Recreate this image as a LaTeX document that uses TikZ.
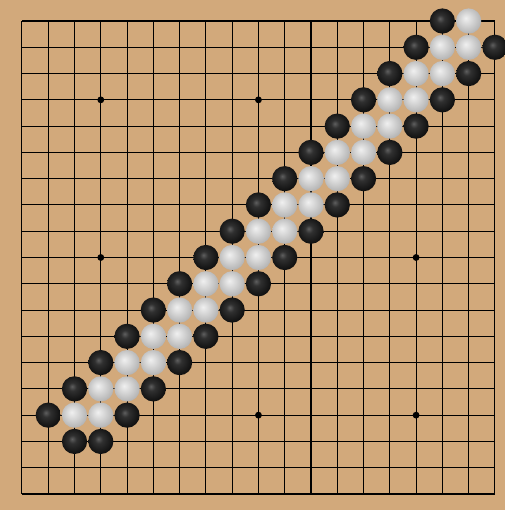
\documentclass[tikz,border=0pt]{standalone}
\definecolor{boardtan}{RGB}{210,169,123}
\definecolor{bsHi}{RGB}{95,95,95}
\definecolor{bsMid}{RGB}{48,48,48}
\definecolor{bsEdge}{RGB}{15,15,15}
\definecolor{wsHi}{RGB}{240,240,240}
\definecolor{wsMid}{RGB}{214,214,214}
\definecolor{wsEdge}{RGB}{172,172,172}
\pgfdeclareradialshading{blackshade}{\pgfqpoint{-5bp}{5bp}}{color(0bp)=(bsHi); color(8bp)=(bsMid); color(27bp)=(bsEdge); color(50bp)=(bsEdge)}
\pgfdeclareradialshading{whiteshade}{\pgfqpoint{-6bp}{6bp}}{color(0bp)=(wsHi); color(12bp)=(wsMid); color(31bp)=(wsEdge); color(50bp)=(wsEdge)}
\tikzset{
  blackstone/.style={shading=blackshade},
  whitestone/.style={shading=whiteshade},
}
\begin{document}
\begin{tikzpicture}[x=0.7cm,y=0.7cm]
\useasboundingbox (-0.836,0.80) rectangle (18.38,-18.61);
\clip (-0.836,0.80) rectangle (18.38,-18.61);
\fill[boardtan] (-0.836,0.80) rectangle (18.38,-18.61);

% grid
\foreach \i in {0,...,18} {
  \draw[line width=0.8pt] (\i,0) -- (\i,-18);
  \draw[line width=0.8pt] (0,-\i) -- (18,-\i);
}

% star points
\foreach \i in {3,9,15}
  \foreach \j in {3,9,15}
    \fill (\i,-\j) circle (0.13);

% stones
\shade[blackstone] (16,0) circle (0.48);
\shade[whitestone] (17,0) circle (0.48);
\foreach \r in {1,...,15} {
  \pgfmathtruncatemacro{\a}{16-\r}
  \pgfmathtruncatemacro{\b}{17-\r}
  \pgfmathtruncatemacro{\c}{18-\r}
  \pgfmathtruncatemacro{\d}{19-\r}
  \shade[blackstone] (\a,-\r) circle (0.48);
  \shade[whitestone] (\b,-\r) circle (0.48);
  \shade[whitestone] (\c,-\r) circle (0.48);
  \shade[blackstone] (\d,-\r) circle (0.48);
}
\shade[blackstone] (2,-16) circle (0.48);
\shade[blackstone] (3,-16) circle (0.48);
\end{tikzpicture}
\end{document}
